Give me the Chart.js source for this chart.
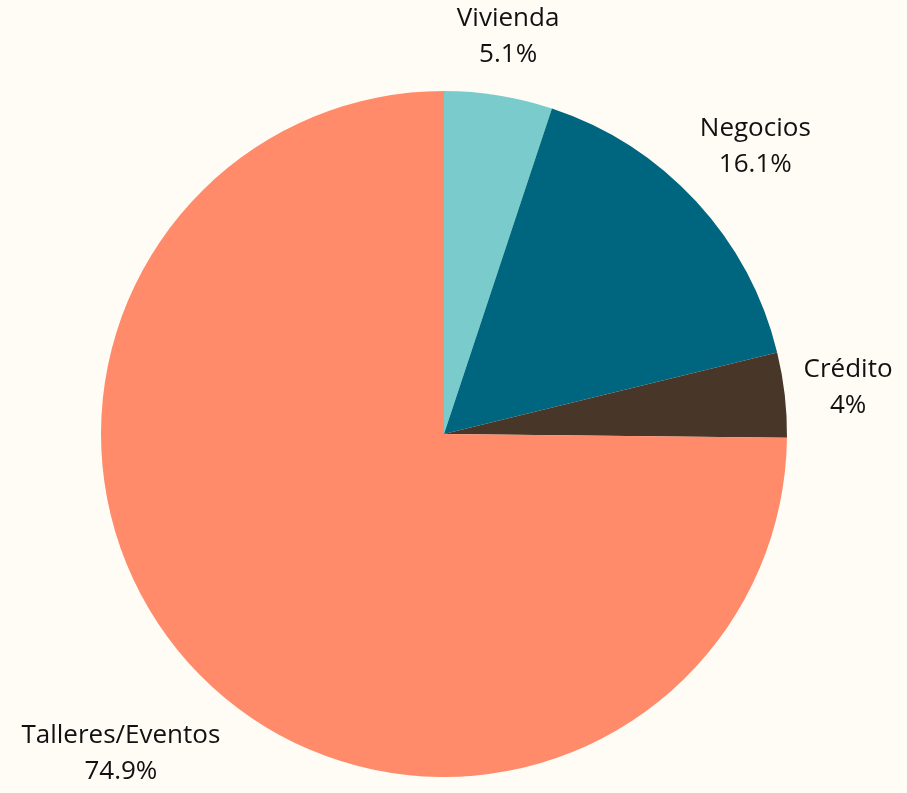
<!DOCTYPE html>
<html>
<head>
<meta charset="utf-8">
<script src="https://cdn.jsdelivr.net/npm/chart.js@4.4.0/dist/chart.umd.min.js"></script>
<style>
html,body{margin:0;padding:0;background:#FFFCF5;}
#wrap{width:907px;height:793px;}
</style>
</head>
<body>
<div id="wrap"><canvas id="c" width="907" height="793"></canvas></div>
<script>
const categories = ["Vivienda", "Negocios", "Crédito", "Talleres/Eventos"];
const shares = [5.1, 16.1, 4, 74.9];
const colors = ["#7ACCCC", "#006680", "#483729", "#FF8B6A"];

const bgPlugin = {
  id: 'bg',
  beforeDraw(chart) {
    const ctx = chart.ctx;
    ctx.save();
    ctx.fillStyle = '#FFFCF5';
    ctx.fillRect(0, 0, chart.width, chart.height);
    ctx.restore();
  }
};

const labelPlugin = {
  id: 'outLabels',
  afterDatasetsDraw(chart) {
    const ctx = chart.ctx;
    const meta = chart.getDatasetMeta(0);
    const fontSize = 26, lineH = 36;
    ctx.save();
    ctx.font = fontSize + 'px "Open Sans", sans-serif';
    ctx.fillStyle = '#111111';
    ctx.textAlign = 'center';
    ctx.textBaseline = 'middle';
    meta.data.forEach((arc, i) => {
      const p = arc.getProps(['x','y','startAngle','endAngle','outerRadius'], true);
      const a = (p.startAngle + p.endAngle) / 2;
      const lines = [categories[i], shares[i] + '%'];
      const w = Math.max(...lines.map(l => ctx.measureText(l).width));
      const h = lines.length * lineH;
      const dx = Math.cos(a), dy = Math.sin(a);
      const R = p.outerRadius * 1.045 + Math.abs(dx) * w / 2 + Math.abs(dy) * h / 2;
      const cx = p.x + dx * R, cy = p.y + dy * R;
      lines.forEach((l, k) => {
        ctx.fillText(l, cx, cy - h / 2 + lineH * (k + 0.5));
      });
    });
    ctx.restore();
  }
};

new Chart(document.getElementById('c'), {
  type: 'pie',
  data: {
    labels: categories,
    datasets: [{
      data: shares,
      backgroundColor: colors,
      borderWidth: 0
    }]
  },
  options: {
    responsive: false,
    animation: false,
    layout: { padding: { top: 91, bottom: 16, left: 101, right: 120 } },
    plugins: { legend: { display: false }, tooltip: { enabled: false } }
  },
  plugins: [bgPlugin, labelPlugin]
});
</script>
</body>
</html>
